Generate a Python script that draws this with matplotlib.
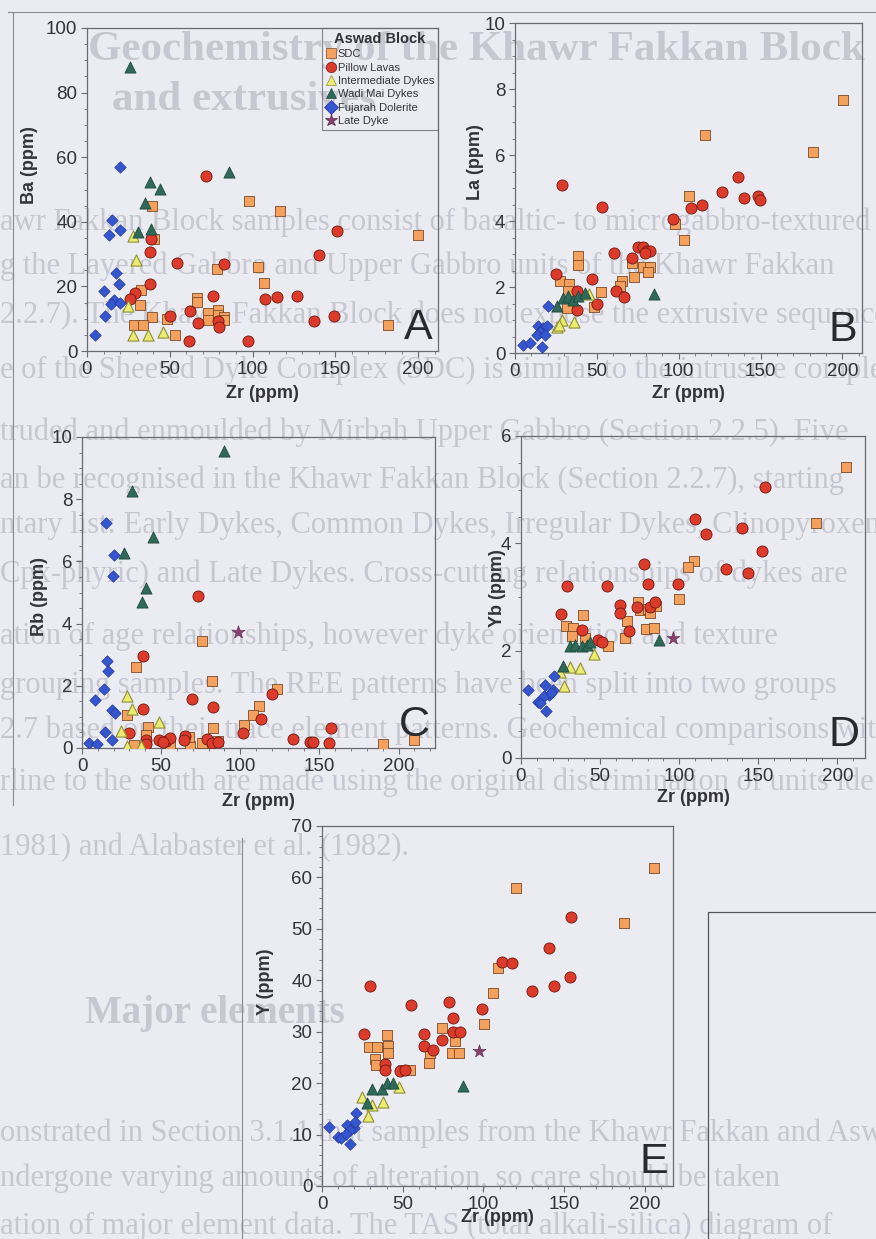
import matplotlib
matplotlib.use("Agg")
import matplotlib.pyplot as plt
from matplotlib.lines import Line2D
from matplotlib.ticker import MultipleLocator

# ---------------- data ----------------
# Panel A: Ba vs Zr
a_sdc_zr = [39.2, 40.2, 98, 116.6, 200.2, 103.5, 107, 78.4, 32.8, 32.2, 39.2, 28.1, 33.6, 48.2, 53.3, 66.6, 66.6, 73, 73, 79.4, 79, 83, 83, 182]
a_sdc_ba = [45, 34.8, 46.5, 43.4, 35.8, 26.1, 20.9, 25.5, 18.8, 14.2, 10.5, 8, 8, 10, 5.1, 16.5, 15.3, 11.9, 9.5, 12.6, 11.1, 10.5, 9.5, 8]
a_pil_zr = [71.8, 150.8, 140, 127, 114.6, 107.5, 149, 137, 97, 38.9, 38.2, 38.2, 54.3, 82.8, 76.4, 29.1, 25.7, 50.3, 62, 67, 79.4, 80, 61.7]
a_pil_ba = [54.2, 37, 29.7, 17, 16.8, 16, 10.8, 9.2, 3.1, 34.8, 30.5, 20.7, 27.3, 26.9, 17, 18, 16, 10.9, 12.3, 8.7, 9.2, 7.4, 3]
a_int_zr = [27.7, 29.7, 24.5, 27.5, 36.8, 45.8]
a_int_ba = [35.6, 28.3, 13.9, 4.9, 5.1, 5.9]
a_wad_zr = [26, 37.8, 43.8, 34.8, 30.8, 38.6, 85.8]
a_wad_ba = [88, 52.2, 50.2, 45.7, 36.7, 37.7, 55.5]
a_fuj_zr = [20.1, 15.1, 19.7, 13.5, 17.5, 19.1, 10, 16.1, 14.7, 20.1, 10.6, 5]
a_fuj_ba = [57, 40.5, 37.4, 35.9, 24, 20.7, 18.5, 15.9, 14.7, 15, 10.8, 4.9]

# Panel B: La vs Zr
b_sdc_zr = [200.2, 116, 181.9, 106.5, 98, 103.5, 38.7, 38.3, 27.5, 33.2, 32.6, 31.6, 48.5, 52.5, 65.2, 64.2, 72.7, 71.7, 78, 82.5, 81]
b_sdc_la = [7.68, 6.6, 6.1, 4.75, 3.9, 3.43, 2.95, 2.68, 2.17, 2.09, 1.89, 1.36, 1.39, 1.84, 2.17, 2.02, 2.3, 2.73, 2.6, 2.6, 2.44]
b_pil_zr = [28.9, 53.4, 96.7, 107.5, 114, 126.7, 136.5, 140, 148.7, 149.7, 25, 46.8, 60.7, 71.7, 75.4, 78.4, 80.4, 82.5, 79.4, 37.7, 37.7, 49.9, 61.7, 66.6]
b_pil_la = [5.1, 4.42, 4.06, 4.39, 4.5, 4.87, 5.32, 4.7, 4.75, 4.65, 2.4, 2.24, 3.03, 2.88, 3.21, 3.21, 3.08, 3.08, 3.03, 1.89, 1.31, 1.5, 1.89, 1.7]
b_int_zr = [29, 25.5, 27, 36, 45.5]
b_int_la = [1.0, 0.78, 0.85, 0.95, 1.8]
b_wad_zr = [29.5, 32.6, 35.6, 38.7, 42.8, 25.5, 85]
b_wad_la = [1.67, 1.74, 1.62, 1.72, 1.82, 1.43, 1.8]
b_fuj_zr = [20.4, 14.3, 17.3, 19.3, 15.3, 13.2, 18.3, 4.7, 9.2, 16.3]
b_fuj_la = [1.43, 0.81, 0.76, 0.81, 0.63, 0.56, 0.56, 0.25, 0.3, 0.17]

# Panel C: Rb vs Zr
c_sdc_zr = [76, 34, 81.9, 123, 111.7, 107.9, 102.6, 28.3, 41.5, 40.4, 82.6, 32.6, 55.3, 68, 75.5, 85.7, 67.7, 190, 210]
c_sdc_rb = [3.43, 2.6, 2.14, 1.9, 1.34, 1.05, 0.75, 1.07, 0.68, 0.43, 0.64, 0.11, 0.11, 0.05, 0.16, 0.21, 0.35, 0.13, 0.25]
c_pil_zr = [73.4, 38.7, 38.7, 69.6, 83, 119.8, 112.8, 102, 157, 133, 144, 146, 156, 29.8, 40.4, 48.9, 53.2, 55.3, 64.9, 64.5, 78.7, 81.9, 86.2, 51, 40.4]
c_pil_rb = [4.9, 2.95, 1.25, 1.59, 1.32, 1.75, 0.93, 0.48, 0.64, 0.29, 0.2, 0.2, 0.16, 0.48, 0.27, 0.27, 0.24, 0.32, 0.4, 0.25, 0.29, 0.16, 0.18, 0.18, 0.14]
c_int_zr = [28.3, 31.3, 48.5, 24.5, 28.3, 37.2]
c_int_rb = [1.68, 1.26, 0.83, 0.54, 0.08, 0.08]
c_wad_zr = [89.8, 31.5, 45.1, 26.6, 40.4, 37.9]
c_wad_rb = [9.56, 8.27, 6.78, 6.27, 5.14, 4.68]
c_fuj_zr = [14.9, 20.2, 19.4, 16, 16.6, 13.8, 8.5, 19.1, 20.6, 14.3, 19.1, 4.3, 9.6]
c_fuj_rb = [7.23, 6.2, 5.52, 2.79, 2.49, 1.9, 1.53, 1.21, 1.13, 0.5, 0.27, 0.16, 0.14]
c_late_zr = [98.3]
c_late_rb = [3.72]

# Panel D: Yb vs Zr
d_sdc_zr = [205.5, 186.5, 109.5, 105.9, 100, 39.2, 28.4, 32.8, 32.2, 40.6, 55, 67, 65.5, 73.7, 75, 80.6, 81.3, 85.3, 79.2, 83.8]
d_sdc_yb = [5.42, 4.37, 3.67, 3.55, 2.96, 2.67, 2.46, 2.42, 2.28, 2.23, 2.09, 2.56, 2.24, 2.9, 2.76, 2.77, 2.7, 2.83, 2.4, 2.43]
d_pil_zr = [29, 54.3, 80.6, 99, 77.5, 25.5, 38.5, 48.4, 51.2, 62.3, 62.7, 68, 73.3, 81.7, 84.8, 110, 116.8, 140, 154.3, 152.6, 129.7, 143.8]
d_pil_yb = [3.2, 3.2, 3.24, 3.24, 3.61, 2.68, 2.39, 2.19, 2.17, 2.85, 2.7, 2.37, 2.82, 2.82, 2.91, 4.45, 4.17, 4.28, 5.05, 3.86, 3.53, 3.44]
d_int_zr = [45.9, 30.7, 37, 24.8, 27]
d_int_yb = [1.94, 1.7, 1.67, 1.61, 1.35]
d_wad_zr = [87, 30.7, 34.3, 38.5, 41.7, 43.8, 26.5]
d_wad_yb = [2.2, 2.09, 2.11, 2.09, 2.11, 2.17, 1.72]
d_fuj_zr = [4.2, 10.5, 15.4, 20.6, 20.2, 17.5, 14.3, 16, 19, 12.2]
d_fuj_yb = [1.27, 1.05, 1.36, 1.52, 1.27, 1.18, 1.16, 0.88, 1.21, 1.02]
d_late_zr = [96.4]
d_late_yb = [2.23]

# Panel E: Y vs Zr
e_sdc_zr = [205.8, 120, 187, 109.3, 106.2, 100.4, 40.2, 28.9, 34, 41.2, 41.2, 33, 33.6, 50.5, 54.6, 74.2, 82.5, 80.4, 85.2, 67, 66.6]
e_sdc_y = [61.9, 57.9, 51.1, 42.3, 37.6, 31.5, 29.4, 27, 27, 27.3, 25.8, 24.7, 23.5, 22.6, 22.6, 30.7, 28.1, 25.9, 25.9, 25.8, 24]
e_pil_zr = [25.8, 55.3, 78.8, 99.4, 81.4, 62.9, 63.5, 69, 74.2, 81.4, 85.6, 38.8, 38.8, 48.5, 51.5, 29.9, 111.3, 117.5, 140.8, 154.2, 153.6, 143.9, 130.3]
e_pil_y = [29.6, 35.2, 35.8, 34.5, 32.6, 29.6, 27.3, 26.4, 28.4, 30, 30, 23.7, 22.6, 22.4, 22.6, 38.8, 43.6, 43.3, 46.3, 52.4, 40.7, 38.9, 37.9]
e_int_zr = [47.8, 24.7, 30.9, 37.7, 28.2]
e_int_y = [19.3, 17.4, 15.7, 16.4, 13.6]
e_wad_zr = [87.6, 30.9, 37.1, 40.2, 44.3, 27.8]
e_wad_y = [19.4, 18.9, 18.9, 20, 20, 16.1]
e_fuj_zr = [4.1, 9.7, 12, 17.5, 15.5, 19.6, 21.2, 20.6, 17.5, 15]
e_fuj_y = [11.5, 9.5, 9.3, 8.2, 11.9, 11.2, 14.1, 12.5, 10.9, 10.2]
e_late_zr = [97.3]
e_late_y = [26.3]

legend_labels = ["SDC", "Pillow Lavas", "Intermediate Dykes", "Wadi Mai Dykes", "Fujarah Dolerite", "Late Dyke"]

# ---------------- styles ----------------
BG = "#ebebf2"
STY = {
    "SDC": dict(marker="s", s=55, c="#f3a15c", edgecolors="#7a4a2a", linewidths=0.6),
    "Pillow Lavas": dict(marker="o", s=64, c="#dc3a2a", edgecolors="#6a1a12", linewidths=0.6),
    "Intermediate Dykes": dict(marker="^", s=64, c="#ecec70", edgecolors="#8f8f3a", linewidths=0.8),
    "Wadi Mai Dykes": dict(marker="^", s=64, c="#2f6a58", edgecolors="#1f4a3c", linewidths=0.6),
    "Fujarah Dolerite": dict(marker="D", s=34, c="#3656cf", edgecolors="#23389a", linewidths=0.5),
    "Late Dyke": dict(marker="*", s=95, c="#8a3f72", edgecolors="#5a2a4a", linewidths=0.4),
}

plt.rcParams["font.family"] = ["Liberation Sans", "DejaVu Sans"]

W, H = 876, 1239
fig = plt.figure(figsize=(W / 100, H / 100), dpi=100, facecolor=BG)


def px_axes(l, t, r, b):
    ax = fig.add_axes([l / W, 1 - b / H, (r - l) / W, (b - t) / H])
    ax._px = (l, t, r, b)
    return ax


# ---------------- faded page text (background) ----------------
TXT = "#c7c7d2"
serif = ["Liberation Serif", "DejaVu Serif"]
fig.text(88 / W, 1 - 50 / H, "Geochemistry of the Khawr Fakkan Block", fontsize=31,
         fontweight="bold", family=serif, color=TXT, va="center", zorder=-5)
fig.text(112 / W, 1 - 100 / H, "and extrusives", fontsize=31, fontweight="bold",
         family=serif, color=TXT, va="center", zorder=-5)
body_lines = [
    (222, "awr Fakkan Block samples consist of basaltic- to microgabbro-textured"),
    (266, "g the Layered Gabbro and Upper Gabbro units of the Khawr Fakkan"),
    (315, "2.2.7). The Khawr Fakkan Block does not expose the extrusive sequence"),
    (370, "e of the Sheeted Dyke Complex (SDC) is similar to the intrusive complex,"),
    (432, "truded and enmoulded by Mirbah Upper Gabbro (Section 2.2.5). Five"),
    (480, "an be recognised in the Khawr Fakkan Block (Section 2.2.7), starting"),
    (526, "ntary list: Early Dykes, Common Dykes, Irregular Dykes, Clinopyroxene"),
    (574, "Cpx-phyric) and Late Dykes. Cross-cutting relationships of dykes are"),
    (636, "ation of age relationships, however dyke orientation and texture"),
    (685, "grouping samples. The REE patterns have been split into two groups"),
    (730, "2.7 based on their trace element patterns. Geochemical comparisons with"),
    (782, "rline to the south are made using the original discrimination of units ide"),
    (848, "1981) and Alabaster et al. (1982)."),
    (1133, "onstrated in Section 3.1.1 that samples from the Khawr Fakkan and Aswad"),
    (1178, "ndergone varying amounts of alteration, so care should be taken"),
    (1226, "ation of major element data. The TAS (total alkali-silica) diagram of"),
]
for y, s in body_lines:
    fig.text(0, 1 - y / H, s, fontsize=22, family=serif, color=TXT, va="center", zorder=-5)
fig.text(85 / W, 1 - 1013 / H, "Major elements", fontsize=28, fontweight="bold",
         family=serif, color=TXT, va="center", zorder=-5)

# frame lines of the page
frame_col = "#8a8a94"
fig.add_artist(Line2D([8 / W, 1], [1 - 12 / H, 1 - 12 / H], color=frame_col, lw=0.8))
fig.add_artist(Line2D([13 / W, 13 / W], [1 - 12 / H, 1 - 805 / H], color=frame_col, lw=0.8))
fig.add_artist(Line2D([242 / W, 242 / W], [1 - 838 / H, 0], color=frame_col, lw=0.8))
fig.add_artist(Line2D([708 / W, 708 / W, 1], [0, 1 - 912 / H, 1 - 912 / H], color="#555560", lw=0.9))


def style_axes(ax, xmax, ymax, ymaj, ymin, ylabel, letter, xlab_y, ylab_xy):
    l, t, r, b = ax._px
    ax.set_facecolor("none")
    ax.set_xlim(0, xmax)
    ax.set_ylim(0, ymax)
    ax.xaxis.set_major_locator(MultipleLocator(50))
    ax.xaxis.set_minor_locator(MultipleLocator(10))
    ax.yaxis.set_major_locator(MultipleLocator(ymaj))
    ax.yaxis.set_minor_locator(MultipleLocator(ymin))
    ax.tick_params(which="major", direction="out", length=4, width=0.8, colors="#6a6a72",
                   labelsize=13.5, labelcolor="#333338", pad=3)
    ax.tick_params(which="minor", direction="out", length=2.5, width=0.6, colors="#6a6a72")
    for sp in ax.spines.values():
        sp.set_color("#6a6a72")
        sp.set_linewidth(0.9)
    ax.set_xlabel("Zr (ppm)", fontsize=13, fontweight="bold", color="#333338", va="center")
    ax.set_ylabel(ylabel, fontsize=13, fontweight="bold", color="#333338", va="center")
    ax.xaxis.set_label_coords(0.5, (b - xlab_y) / (b - t))
    ax.yaxis.set_label_coords((ylab_xy[0] - l) / (r - l), (b - ylab_xy[1]) / (b - t))
    ax.text(0.985, 0.01, letter, transform=ax.transAxes, ha="right", va="bottom",
            fontsize=31, color="#2a2a2e")


def plot_groups(ax, groups):
    for name, xs, ys in groups:
        ax.scatter(xs, ys, label=name, zorder=3, **STY[name])


# Panel A
axA = px_axes(87, 28, 438, 351)
plot_groups(axA, [("SDC", a_sdc_zr, a_sdc_ba), ("Pillow Lavas", a_pil_zr, a_pil_ba),
                  ("Intermediate Dykes", a_int_zr, a_int_ba), ("Wadi Mai Dykes", a_wad_zr, a_wad_ba),
                  ("Fujarah Dolerite", a_fuj_zr, a_fuj_ba)])
style_axes(axA, 212, 100, 20, 5, "Ba (ppm)", "A", 393, (30, 165))
handles = []
for name in legend_labels:
    st = STY[name]
    handles.append(Line2D([], [], ls="none", marker=st["marker"],
                          markersize=7.5 if name != "Late Dyke" else 9.5,
                          markerfacecolor=st["c"], markeredgecolor=st["edgecolors"], markeredgewidth=0.5,
                          label=name))
leg = axA.legend(handles=handles, loc="upper right", bbox_to_anchor=(1.0, 1.0), borderaxespad=0,
                 title="Aswad Block", title_fontproperties={"weight": "bold", "size": 10.5},
                 fontsize=8, frameon=True, fancybox=False, handletextpad=0.15, handlelength=0.9,
                 labelspacing=0.3, borderpad=0.35)
leg.get_frame().set_edgecolor("#6a6a72")
leg.get_frame().set_facecolor("none")
leg.get_frame().set_linewidth(0.8)
for t in leg.get_texts():
    t.set_color("#333338")
leg.get_title().set_color("#333338")

# Panel B
axB = px_axes(515, 23, 862, 353)
plot_groups(axB, [("SDC", b_sdc_zr, b_sdc_la), ("Pillow Lavas", b_pil_zr, b_pil_la),
                  ("Intermediate Dykes", b_int_zr, b_int_la), ("Wadi Mai Dykes", b_wad_zr, b_wad_la),
                  ("Fujarah Dolerite", b_fuj_zr, b_fuj_la)])
style_axes(axB, 212, 10, 2, 0.5, "La (ppm)", "B", 394, (475, 162))

# Panel C
axC = px_axes(82, 437, 435, 748)
plot_groups(axC, [("SDC", c_sdc_zr, c_sdc_rb), ("Pillow Lavas", c_pil_zr, c_pil_rb),
                  ("Intermediate Dykes", c_int_zr, c_int_rb), ("Wadi Mai Dykes", c_wad_zr, c_wad_rb),
                  ("Fujarah Dolerite", c_fuj_zr, c_fuj_rb), ("Late Dyke", c_late_zr, c_late_rb)])
style_axes(axC, 223, 10, 2, 0.5, "Rb (ppm)", "C", 801, (39, 597))

# Panel D
axD = px_axes(521, 436, 865, 758)
plot_groups(axD, [("SDC", d_sdc_zr, d_sdc_yb), ("Pillow Lavas", d_pil_zr, d_pil_yb),
                  ("Intermediate Dykes", d_int_zr, d_int_yb), ("Wadi Mai Dykes", d_wad_zr, d_wad_yb),
                  ("Fujarah Dolerite", d_fuj_zr, d_fuj_yb), ("Late Dyke", d_late_zr, d_late_yb)])
style_axes(axD, 217.5, 6, 2, 0.5, "Yb (ppm)", "D", 797, (497, 588))

# Panel E
axE = px_axes(322, 826, 673, 1186)
plot_groups(axE, [("SDC", e_sdc_zr, e_sdc_y), ("Pillow Lavas", e_pil_zr, e_pil_y),
                  ("Intermediate Dykes", e_int_zr, e_int_y), ("Wadi Mai Dykes", e_wad_zr, e_wad_y),
                  ("Fujarah Dolerite", e_fuj_zr, e_fuj_y), ("Late Dyke", e_late_zr, e_late_y)])
style_axes(axE, 217.5, 70, 10, 2, "Y (ppm)", "E", 1217, (265, 982))

fig.savefig("out.png", dpi=100, facecolor=BG)
